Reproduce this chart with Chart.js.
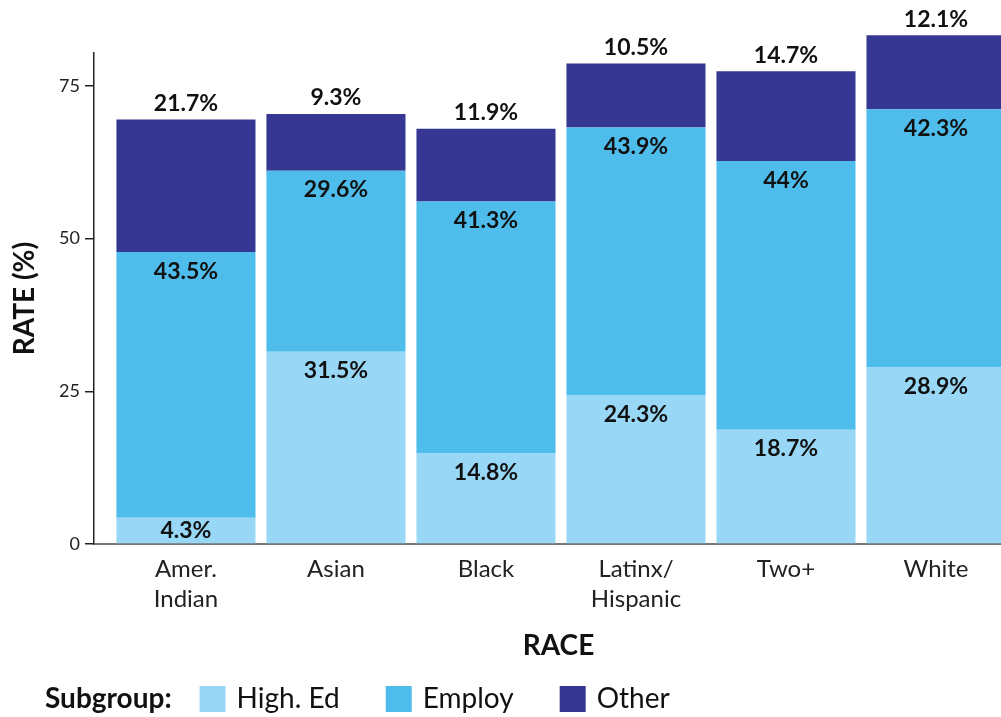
<!DOCTYPE html>
<html>
<head>
<meta charset="utf-8">
<script src="https://cdn.jsdelivr.net/npm/chart.js@4/dist/chart.umd.min.js"></script>
<style>
html,body{margin:0;padding:0;background:#fff;overflow:hidden;width:1001px;height:717px}
#wrap{width:1023px;height:717px}
</style>
</head>
<body>
<div id="wrap"><canvas id="c" width="1023" height="717"></canvas></div>
<script>
const categories = [["Amer.", "Indian"], "Asian", "Black", ["Latinx/", "Hispanic"], "Two+", "White"];
const highEd = [4.3, 31.5, 14.8, 24.3, 18.7, 28.9];
const employ = [43.5, 29.6, 41.3, 43.9, 44, 42.3];
const other  = [21.7, 9.3, 11.9, 10.5, 14.7, 12.1];
const seriesNames = ["High. Ed", "Employ", "Other"];
const seriesColors = ["#98d7f6", "#4ebdeb", "#353792"];
const yTicks = [0, 25, 50, 75];
const xTitle = "RACE";
const yTitle = "RATE (%)";
const legendTitle = "Subgroup:";

const FONT = "Lato";
const toPoints = arr => arr.map((v, i) => ({ x: i, y: v }));

const valueLabels = {
  id: "valueLabels",
  afterDatasetsDraw(chart) {
    const ctx = chart.ctx;
    ctx.save();
    ctx.font = "bold 23px " + FONT;
    ctx.fillStyle = "#111";
    ctx.textAlign = "center";
    ctx.textBaseline = "middle";
    const n = chart.data.datasets.length;
    chart.data.datasets.forEach((ds, di) => {
      const meta = chart.getDatasetMeta(di);
      meta.data.forEach((el, i) => {
        const v = ds.data[i].y;
        const txt = v + "%";
        let y;
        if (di === n - 1) {
          y = el.y - 16;
        } else {
          y = Math.min(el.y + 19, (el.y + el.base) / 2);
        }
        ctx.fillText(txt, el.x, y);
      });
    });
    ctx.restore();
  }
};

const subgroupLegend = {
  id: "subgroupLegend",
  afterDraw(chart) {
    const ctx = chart.ctx;
    ctx.save();
    const y = 699;
    ctx.textBaseline = "middle";
    ctx.textAlign = "left";
    ctx.fillStyle = "#111";
    ctx.font = "bold 28px " + FONT;
    let x = 45;
    ctx.fillText(legendTitle, x, y);
    x += ctx.measureText(legendTitle).width + 28;
    ctx.font = "28px " + FONT;
    chart.data.datasets.forEach(ds => {
      ctx.fillStyle = ds.backgroundColor;
      ctx.fillRect(x, y - 13, 26, 26);
      x += 26 + 11;
      ctx.fillStyle = "#111";
      ctx.fillText(ds.label, x, y);
      x += ctx.measureText(ds.label).width + 46;
    });
    ctx.restore();
  }
};

const datasets = [highEd, employ, other].map((arr, k) => ({
  label: seriesNames[k],
  data: toPoints(arr),
  backgroundColor: seriesColors[k],
  borderWidth: 0,
  categoryPercentage: 1,
  barPercentage: 0.927,
  clip: { left: 0, top: false, right: 0, bottom: false }
}));

new Chart(document.getElementById("c"), {
  type: "bar",
  data: { datasets },
  plugins: [valueLabels, subgroupLegend],
  options: {
    responsive: false,
    animation: false,
    devicePixelRatio: 1,
    layout: { padding: { top: 53, bottom: 50, left: 0, right: 0 } },
    plugins: { legend: { display: false }, tooltip: { enabled: false } },
    scales: {
      x: {
        type: "linear",
        stacked: true,
        offset: false,
        min: -0.613,
        max: 5.58,
        afterBuildTicks: s => { s.ticks = categories.map((c, i) => ({ value: i })); },
        afterFit: s => { s.height = 123; },
        grid: { display: false, drawTicks: false, offset: false },
        border: { display: true, color: "#777", width: 2 },
        ticks: {
          autoSkip: false,
          maxRotation: 0,
          padding: 10,
          color: "#222",
          font: { family: FONT, size: 24, lineHeight: 1.25 },
          callback: (v) => categories[Math.round(v)]
        },
        title: {
          display: true, text: xTitle, color: "#111",
          font: { family: FONT, size: 28, weight: "bold" },
          padding: { top: 4, bottom: 4 }
        }
      },
      y: {
        stacked: true,
        min: 0,
        max: 80.4,
        afterBuildTicks: s => { s.ticks = yTicks.map(v => ({ value: v })); },
        afterFit: s => { s.width = 94; },
        grid: { display: true, drawOnChartArea: false, drawTicks: true, tickLength: 9, color: "#222", lineWidth: 1.5 },
        border: { display: true, color: "#222", width: 1.5 },
        ticks: {
          padding: 5,
          color: "#222",
          font: { family: FONT, size: 18 }
        },
        title: {
          display: true, text: yTitle, color: "#111",
          font: { family: FONT, size: 28, weight: "bold" },
          padding: { top: 8, bottom: 4 }
        }
      }
    }
  }
});
</script>
</body>
</html>
